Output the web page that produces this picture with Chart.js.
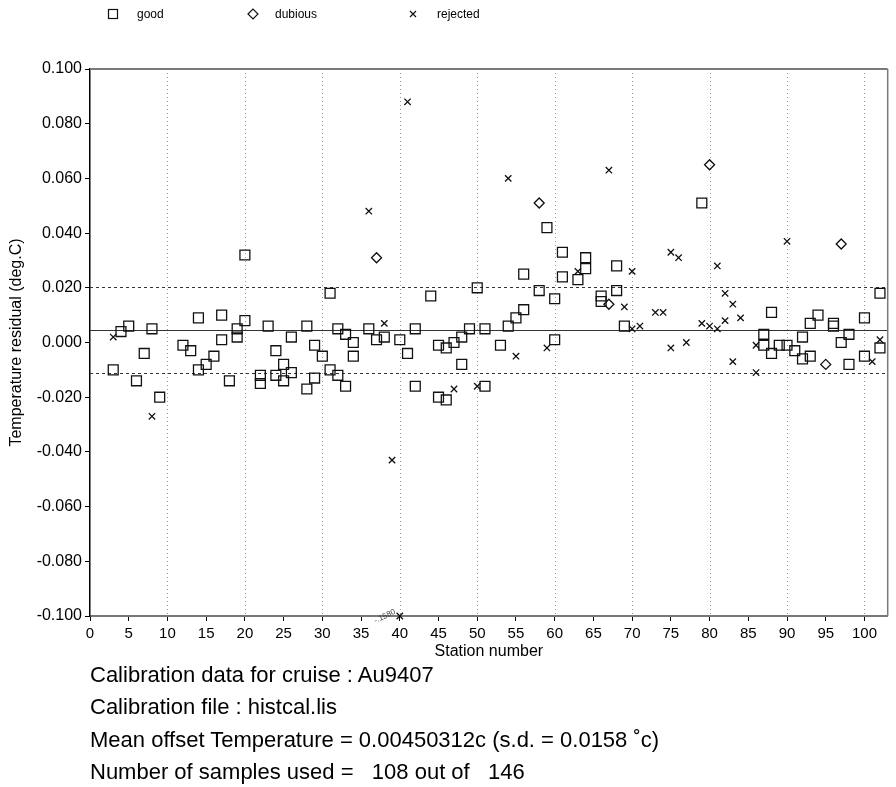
<!DOCTYPE html>
<html>
<head>
<meta charset="utf-8">
<script src="https://cdn.jsdelivr.net/npm/chart.js@4/dist/chart.umd.min.js"></script>
<style>
  body { margin: 0; background: #fff; font-family: "Liberation Sans", Arial, sans-serif; }
  #wrap { position: relative; width: 896px; height: 787px; }
  #myChart { position: absolute; left: 0; top: 0; }
  .note { position: absolute; left: 90px; font-size: 22px; line-height: 1; white-space: pre; color: #000; }
</style>
</head>
<body>
<div id="wrap">
  <canvas id="myChart" width="896" height="787"></canvas>
  <div class="note" style="top:664px">Calibration data for cruise : Au9407</div>
  <div class="note" style="top:696px">Calibration file : histcal.lis</div>
  <div class="note" style="top:729px">Mean offset Temperature = 0.00450312c (s.d. = 0.0158 ˚c)</div>
  <div class="note" style="top:761px">Number of samples used =   108 out of   146</div>
</div>
<script>
var FONT = '"Liberation Sans", Arial, sans-serif'

// x axis tick labels (station numbers)
var stationTicks = [0,5,10,15,20,25,30,35,40,45,50,55,60,65,70,75,80,85,90,95,100]

// good samples
var goodStation = [3,4,5,6,7,8,9,12,13,14,14,15,16,17,17,18,19,19,20,20,22,22,23,24,24,25,25,26,26,28,28,29,29,30,31,31,32,32,33,33,34,34,
  36,37,38,40,41,42,42,44,45,45,46,46,47,48,48,49,50,51,51,53,54,55,56,56,58,59,60,60,61,61,63,64,64,66,66,68,68,69,79,
  87,87,88,88,89,90,91,92,92,93,93,94,96,96,97,98,98,100,100,102,102]
var goodValue = [-0.010,0.004,0.006,-0.014,-0.004,0.005,-0.020,-0.001,-0.003,0.009,-0.010,-0.008,-0.005,0.010,0.001,-0.014,0.005,0.002,0.032,0.008,
  -0.012,-0.015,0.006,-0.003,-0.012,-0.008,-0.014,0.002,-0.011,0.006,-0.017,-0.001,-0.013,-0.005,0.018,-0.010,0.005,-0.012,0.003,-0.016,0.000,-0.005,
  0.005,0.001,0.002,0.001,-0.004,0.005,-0.016,0.017,-0.001,-0.020,-0.002,-0.021,0.000,0.002,-0.008,0.005,0.020,0.005,-0.016,-0.001,0.006,0.009,
  0.012,0.025,0.019,0.042,0.016,0.001,0.033,0.024,0.023,0.031,0.027,0.017,0.015,0.028,0.019,0.006,0.051,
  0.003,-0.001,0.011,-0.004,-0.001,-0.001,-0.003,0.002,-0.006,0.007,-0.005,0.010,0.007,0.006,0.000,0.003,-0.008,0.009,-0.005,0.018,-0.002]

// dubious samples
var dubiousStation = [37,58,67,80,95,97]
var dubiousValue = [0.031,0.051,0.014,0.065,-0.008,0.036]

// rejected samples
var rejectedStation = [3,8,36,38,39,41,47,50,54,55,59,63,67,69,70,70,71,73,74,75,75,76,77,79,80,81,81,82,82,83,83,84,86,86,90,101,102]
var rejectedValue = [0.002,-0.027,0.048,0.007,-0.043,0.088,-0.017,-0.016,0.060,-0.005,-0.002,0.026,0.063,0.013,0.026,0.005,0.006,0.011,0.011,
  0.033,-0.002,0.031,0.000,0.007,0.006,0.028,0.005,0.018,0.008,0.014,-0.007,0.009,-0.011,-0.001,0.037,-0.007,0.001]

// rejected sample below the plotted range
var offStation = [40]
var offValue = [-0.158]

var meanOffset = 0.00450312
var stdDev = 0.0158
var yMin = -0.100, yMax = 0.100

function pts(xs, ys) { return xs.map((s, i) => ({x: s, y: ys[i]})) }

var refLines = {
  id: 'refLines',
  beforeDatasetsDraw(chart) {
    const {ctx, chartArea: a, scales: {x, y}} = chart
    ctx.save()
    // dotted vertical grid every 10 stations
    ctx.strokeStyle = '#9a9a9a'
    ctx.lineWidth = 1
    ctx.setLineDash([1, 3])
    x.ticks.forEach(t => {
      if (t.value > 0 && t.value % 10 === 0) {
        const px = Math.round(x.getPixelForValue(t.value)) + 0.5
        ctx.beginPath(); ctx.moveTo(px, a.top); ctx.lineTo(px, a.bottom); ctx.stroke()
      }
    })
    // mean and +/- s.d.
    ctx.strokeStyle = '#333'
    ctx.setLineDash([])
    let py = Math.round(y.getPixelForValue(meanOffset)) + 0.5
    ctx.beginPath(); ctx.moveTo(a.left, py); ctx.lineTo(a.right, py); ctx.stroke()
    ctx.setLineDash([3, 3])
    ;[meanOffset + stdDev, meanOffset - stdDev].forEach(v => {
      py = Math.round(y.getPixelForValue(v)) + 0.5
      ctx.beginPath(); ctx.moveTo(a.left, py); ctx.lineTo(a.right, py); ctx.stroke()
    })
    // top + right frame
    ctx.setLineDash([])
    ctx.strokeStyle = '#7a7a7a'
    ctx.lineWidth = 2
    ctx.beginPath(); ctx.moveTo(a.left, a.top); ctx.lineTo(a.right, a.top); ctx.stroke()
    ctx.lineWidth = 1.5
    ctx.beginPath(); ctx.moveTo(a.right, a.top); ctx.lineTo(a.right, a.bottom); ctx.stroke()
    ctx.restore()
  },
  afterDraw(chart) {
    const {ctx, scales: {x, y}} = chart
    ctx.save()
    // legend
    ctx.strokeStyle = '#111'
    ctx.lineWidth = 1.2
    ctx.strokeRect(108.5, 9.5, 9, 9)
    ctx.beginPath(); ctx.moveTo(248, 14); ctx.lineTo(253, 9); ctx.lineTo(258, 14); ctx.lineTo(253, 19); ctx.closePath(); ctx.stroke()
    ctx.beginPath(); ctx.moveTo(410, 11); ctx.lineTo(416, 17); ctx.moveTo(416, 11); ctx.lineTo(410, 17); ctx.stroke()
    ctx.fillStyle = '#000'
    ctx.font = '12px ' + FONT
    ctx.textBaseline = 'middle'
    ctx.fillText('good', 137, 15)
    ctx.fillText('dubious', 275, 15)
    ctx.fillText('rejected', 437, 15)
    // label for off-scale value
    offStation.forEach((s, i) => {
      const px = x.getPixelForValue(s), py = y.getPixelForValue(yMin)
      ctx.save()
      ctx.translate(px - 3, py - 1)
      ctx.rotate(-0.45)
      ctx.font = '8px ' + FONT
      ctx.fillStyle = '#444'
      ctx.textAlign = 'right'
      ctx.textBaseline = 'bottom'
      ctx.fillText(offValue[i].toFixed(4).replace('0.', '.'), 0, 0)
      ctx.restore()
    })
    ctx.restore()
  }
}

var ctx = document.getElementById('myChart')
var myPlot = new Chart(ctx, {
  type: 'scatter',
  data: {
    datasets: [{
      label: 'good',
      data: pts(goodStation, goodValue),
      pointStyle: 'rect',
      radius: 7,
      borderColor: '#111',
      backgroundColor: 'rgba(0,0,0,0)',
      borderWidth: 1.3
    }, {
      label: 'dubious',
      data: pts(dubiousStation, dubiousValue),
      pointStyle: 'rectRot',
      radius: 5,
      borderColor: '#111',
      backgroundColor: 'rgba(0,0,0,0)',
      borderWidth: 1.3
    }, {
      label: 'rejected',
      data: pts(rejectedStation, rejectedValue),
      pointStyle: 'crossRot',
      radius: 4.5,
      borderColor: '#111',
      borderWidth: 1.3
    }, {
      label: 'rejected (off scale)',
      data: offStation.map((s, i) => ({x: s, y: Math.max(offValue[i], yMin)})),
      pointStyle: 'crossRot',
      radius: 4.5,
      borderColor: '#111',
      borderWidth: 1.3,
      clip: false
    }]
  },
  options: {
    responsive: false,
    animation: false,
    layout: { padding: { top: 69, right: 8, left: 0, bottom: 126 } },
    plugins: { legend: { display: false }, tooltip: { enabled: false } },
    scales: {
      x: {
        type: 'linear',
        min: 0,
        max: 103,
        afterBuildTicks: s => { s.ticks = stationTicks.map(v => ({value: v})) },
        afterFit: s => { s.height = 45 },
        ticks: { autoSkip: false, maxRotation: 0, padding: 4, color: '#000', font: { size: 15, family: FONT } },
        grid: { drawOnChartArea: false, tickLength: 5, tickColor: '#000' },
        border: { color: '#777', width: 2 },
        title: { display: true, text: 'Station number', color: '#000', padding: 0, font: { size: 16, family: FONT } }
      },
      y: {
        min: yMin,
        max: yMax,
        afterFit: s => { s.width = 90 },
        ticks: {
          stepSize: 0.02, padding: 3, color: '#000', font: { size: 16, family: FONT },
          callback: v => Math.abs(v) < 1e-9 ? '0.000' : v.toFixed(3)
        },
        grid: { drawOnChartArea: false, tickLength: 5, tickColor: '#000' },
        border: { color: '#000', width: 1.5 },
        title: { display: true, text: 'Temperature residual (deg.C)', color: '#000', padding: { top: 7 }, font: { size: 16, family: FONT } }
      }
    }
  },
  plugins: [refLines]
})
</script>
</body>
</html>
